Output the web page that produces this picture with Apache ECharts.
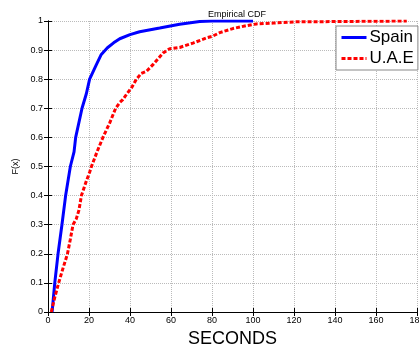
<!DOCTYPE html>
<html>
<head>
<meta charset="utf-8">
<script src="https://cdn.jsdelivr.net/npm/echarts@6/dist/echarts.min.js"></script>
<style>
  html, body { margin: 0; padding: 0; background: #fff; }
  #main { width: 419px; height: 347px; }
</style>
</head>
<body>
<div id="main"></div>
<script>
// Spain ECDF (seconds, F(x))
var spainX = [2, 3.3, 4.9, 6.8, 8.6, 10.9, 12.7, 13.5, 16.6, 18.7, 20.3, 23.6, 26, 29, 32, 35, 40, 44.7, 54.5, 64.2, 74, 80, 100];
var spainY = [0, 0.1, 0.2, 0.3, 0.4, 0.5, 0.55, 0.6, 0.7, 0.75, 0.8, 0.85, 0.885, 0.908, 0.925, 0.939, 0.953, 0.963, 0.976, 0.989, 0.998, 1, 1];
// U.A.E ECDF
var uaeX = [1.6, 3.3, 5.2, 7.3, 9.5, 10.9, 12.2, 13.8, 15.1, 16.3, 18.7, 20.3, 21.2, 23.9, 26.8, 30.1, 33, 35, 36.5, 38.5, 40.7, 43.1, 45.5, 48, 51.2, 56.1, 59.4, 64.2, 70.7, 77.3, 80, 83.8, 90.2, 96.8, 101.7, 110, 121, 175];
var uaeY = [0, 0.05, 0.1, 0.15, 0.2, 0.25, 0.3, 0.32, 0.35, 0.4, 0.45, 0.48, 0.5, 0.55, 0.6, 0.65, 0.7, 0.72, 0.73, 0.75, 0.77, 0.8, 0.82, 0.827, 0.85, 0.89, 0.905, 0.909, 0.924, 0.942, 0.947, 0.96, 0.974, 0.984, 0.99, 0.993, 0.997, 1];

function pairs(xs, ys) {
  var out = [];
  for (var i = 0; i < xs.length; i++) out.push([xs[i], ys[i]]);
  return out;
}

var font = "'Liberation Sans', Arial, sans-serif";
var chart = echarts.init(document.getElementById('main'));

var option = {
  animation: false,
  backgroundColor: '#fff',
  title: {
    text: 'Empirical CDF',
    left: 232, top: 5, textAlign: 'center',
    textStyle: { fontSize: 9, fontWeight: 'normal', color: '#000', fontFamily: font }
  },
  legend: {
    orient: 'vertical',
    left: 336, top: 26,
    padding: [3, 4, 3, 4],
    itemGap: 4,
    itemWidth: 25, itemHeight: 18,
    backgroundColor: '#fff',
    borderColor: '#888', borderWidth: 1,
    itemStyle: { opacity: 0 },   // line only, no marker
    lineStyle: { width: 3 },
    textStyle: { fontSize: 17, color: '#000', fontFamily: font, padding: [0, 0, 0, -2] },
    data: ['Spain', 'U.A.E']
  },
  grid: { left: 48, right: 2, top: 21, bottom: 35, outerBoundsMode: 'none' },
  xAxis: [{
    type: 'value', min: 0, max: 180, interval: 20,
    name: 'SECONDS', nameLocation: 'middle', nameGap: 17,
    nameTextStyle: { fontSize: 18, color: '#000', fontFamily: font },
    axisLine: { lineStyle: { color: '#000', width: 1 } },
    axisTick: { inside: true, length: 4, lineStyle: { color: '#000' } },
    axisLabel: { fontSize: 9, color: '#000', fontFamily: font, margin: 4 },
    splitLine: { show: true, lineStyle: { type: 'dotted', color: '#bbb' } }
  }, {
    type: 'value', min: 0, max: 180, interval: 20, position: 'top',
    axisLine: { show: true, lineStyle: { color: '#000', width: 1 } },
    axisTick: { inside: true, length: 4, lineStyle: { color: '#000' } },
    axisLabel: { show: false },
    splitLine: { show: false }
  }],
  yAxis: [{
    type: 'value', min: 0, max: 1, interval: 0.1,
    name: 'F(x)', nameLocation: 'middle', nameGap: 21, nameRotate: 90,
    nameTextStyle: { fontSize: 9, color: '#000', fontFamily: font },
    axisLine: { show: true, lineStyle: { color: '#000', width: 1 } },
    axisTick: { show: true, inside: true, length: 4, lineStyle: { color: '#000' } },
    axisLabel: {
      fontSize: 9, color: '#000', fontFamily: font, margin: 5,
      formatter: function (v) { return String(Math.round(v * 10) / 10); }
    },
    splitLine: { show: true, lineStyle: { type: 'dotted', color: '#bbb' } }
  }, {
    type: 'value', min: 0, max: 1, interval: 0.1, position: 'right',
    axisLine: { show: true, lineStyle: { color: '#000', width: 1 } },
    axisTick: { show: true, inside: true, length: 4, lineStyle: { color: '#000' } },
    axisLabel: { show: false },
    splitLine: { show: false }
  }],
  series: [{
    name: 'Spain', type: 'line',
    data: pairs(spainX, spainY),
    symbol: 'none',
    color: '#0000ff',
    lineStyle: { width: 3, color: '#0000ff' }
  }, {
    name: 'U.A.E', type: 'line',
    data: pairs(uaeX, uaeY),
    symbol: 'none',
    color: '#ff0000',
    lineStyle: { width: 3, color: '#ff0000', type: [4, 2] }
  }]
};

chart.setOption(option);
</script>
</body>
</html>
